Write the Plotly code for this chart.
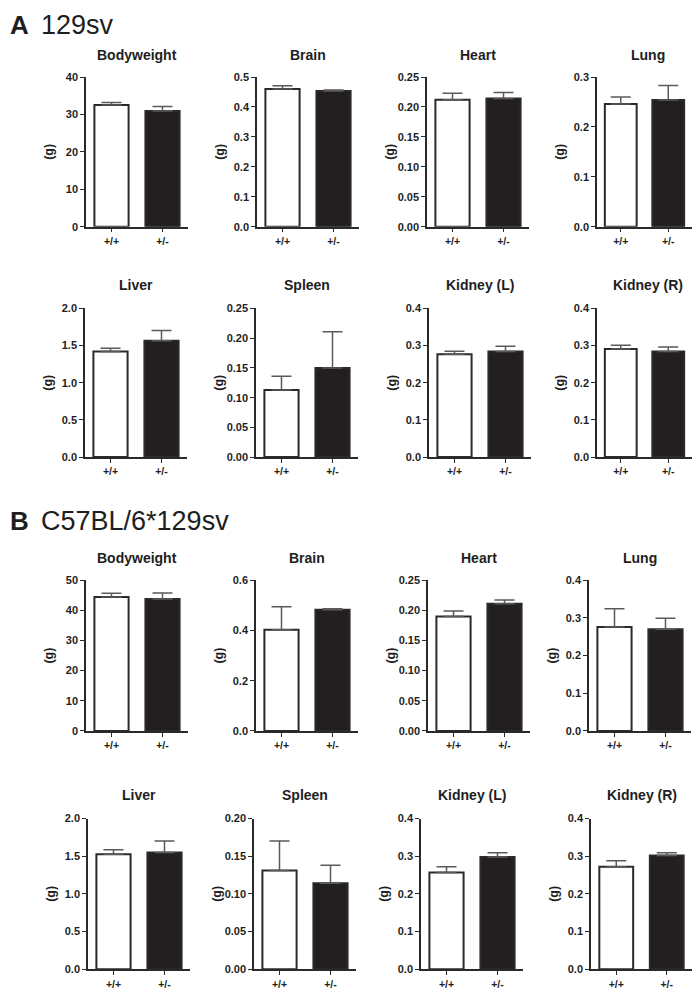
import plotly.graph_objects as go
from plotly.subplots import make_subplots

# ---------------- data ----------------
GROUPS = ["+/+", "+/-"]
ORGANS = ["Bodyweight", "Brain", "Heart", "Lung", "Liver", "Spleen", "Kidney (L)", "Kidney (R)"]
SECTIONS = [("A", "129sv"), ("B", "C57BL/6*129sv")]

# 129sv  (mean of +/+, +/-) and SEM
A_WT = [32.5, 0.460, 0.212, 0.246, 1.420, 0.113, 0.277, 0.291]
A_HET = [30.9, 0.453, 0.214, 0.254, 1.564, 0.150, 0.284, 0.284]
A_WT_ERR = [0.7, 0.011, 0.011, 0.014, 0.045, 0.023, 0.008, 0.010]
A_HET_ERR = [1.2, 0.004, 0.010, 0.029, 0.140, 0.061, 0.014, 0.012]

# C57BL/6*129sv
B_WT = [44.4, 0.403, 0.190, 0.276, 1.525, 0.131, 0.257, 0.272]
B_HET = [43.8, 0.482, 0.211, 0.270, 1.548, 0.114, 0.298, 0.302]
B_WT_ERR = [1.3, 0.091, 0.009, 0.048, 0.060, 0.039, 0.015, 0.016]
B_HET_ERR = [2.0, 0.004, 0.006, 0.029, 0.155, 0.024, 0.011, 0.007]

# y axis scales (max, step, label format) per panel
A_YMAX = [40, 0.5, 0.25, 0.3, 2.0, 0.25, 0.4, 0.4]
A_YSTEP = [10, 0.1, 0.05, 0.1, 0.5, 0.05, 0.1, 0.1]
A_YFMT = ["{:.0f}", "{:.1f}", "{:.2f}", "{:.1f}", "{:.1f}", "{:.2f}", "{:.1f}", "{:.1f}"]
B_YMAX = [50, 0.6, 0.25, 0.4, 2.0, 0.20, 0.4, 0.4]
B_YSTEP = [10, 0.2, 0.05, 0.1, 0.5, 0.05, 0.1, 0.1]
B_YFMT = ["{:.0f}", "{:.1f}", "{:.2f}", "{:.1f}", "{:.1f}", "{:.2f}", "{:.1f}", "{:.1f}"]
Y_LABEL = "(g)"

# ---------------- layout constants (page pixels) ----------------
PAGE_W, PAGE_H = 700, 998
OFF = 8  # default body margin of the html page
W, H = PAGE_W - 2 * OFF, PAGE_H - 2 * OFF
ROW_TOP = [72, 307, 583, 825]
ROW_BOT = [224, 458, 736, 978]
COL_X = [[86, 257, 427, 597], [85, 256, 429, 597], [86, 256, 428, 589], [88, 254, 421, 591]]
TITLE_Y = [50, 283, 560, 801]
PW = 102
SECTION_Y = [19, 523]


def px(x):
    return (x - OFF) / W


def py(y):
    return 1 - (y - OFF) / H


FONT = "Liberation Sans, Arial, sans-serif"
AX_COLOR = "#2a2a2a"
TXT = "#1e1e1e"
BLACK_BAR = "#231f20"
ERR_COLOR = "#5a5a5a"

fig = make_subplots(rows=4, cols=4)

sections = [
    (A_WT, A_HET, A_WT_ERR, A_HET_ERR, A_YMAX, A_YSTEP, A_YFMT),
    (B_WT, B_HET, B_WT_ERR, B_HET_ERR, B_YMAX, B_YSTEP, B_YFMT),
]

annotations = []
for s, (wt, het, we, he, ymax, ystep, yfmt) in enumerate(sections):
    for k in range(8):
        r = s * 2 + k // 4
        c = k % 4
        idx = r * 4 + c + 1
        fig.add_trace(
            go.Bar(
                x=[0, 1],
                y=[wt[k], het[k]],
                width=0.67,
                marker=dict(color=["white", BLACK_BAR], line=dict(color=AX_COLOR, width=2)),
                error_y=dict(
                    type="data",
                    symmetric=False,
                    array=[we[k], he[k]],
                    arrayminus=[0, 0],
                    color=ERR_COLOR,
                    thickness=1.5,
                    width=10,
                ),
                showlegend=False,
                hoverinfo="skip",
            ),
            row=r + 1,
            col=c + 1,
        )
        x0 = COL_X[r][c]
        xd = [max(0.0, px(x0)), min(1.0, px(x0 + PW))]
        yd = [max(0.0, py(ROW_BOT[r])), min(1.0, py(ROW_TOP[r]))]
        n = int(round(ymax[k] / ystep[k]))
        tv = [i * ystep[k] for i in range(n + 1)]
        tt = [yfmt[k].format(v) for v in tv]
        sfx = "" if idx == 1 else str(idx)
        fig.update_layout(
            **{
                f"xaxis{sfx}": dict(
                    domain=xd,
                    range=[-0.5, 1.5],
                    tickvals=[0, 1],
                    ticktext=GROUPS,
                    showline=True,
                    linecolor=AX_COLOR,
                    linewidth=1.5,
                    ticks="outside",
                    ticklen=4,
                    tickwidth=1.2,
                    tickcolor=AX_COLOR,
                    showgrid=False,
                    zeroline=False,
                    tickfont=dict(family=FONT, size=10.5, color=TXT, weight="bold"),
                    fixedrange=True,
                ),
                f"yaxis{sfx}": dict(
                    domain=yd,
                    range=[0, ymax[k]],
                    tickvals=tv,
                    ticktext=tt,
                    showline=True,
                    linecolor=AX_COLOR,
                    linewidth=1.5,
                    ticks="outside",
                    ticklen=4,
                    tickwidth=1.2,
                    tickcolor=AX_COLOR,
                    showgrid=False,
                    zeroline=False,
                    tickfont=dict(family=FONT, size=11, color=TXT, weight="bold"),
                    fixedrange=True,
                ),
            }
        )
        # panel title
        annotations.append(
            dict(
                text=ORGANS[k],
                x=px(x0 + PW / 2),
                y=py(TITLE_Y[r]),
                xref="paper",
                yref="paper",
                xanchor="center",
                yanchor="middle",
                showarrow=False,
                font=dict(family=FONT, size=14, color=TXT, weight="bold"),
            )
        )
        # y label
        annotations.append(
            dict(
                text=Y_LABEL,
                x=px(x0 - 37),
                y=py((ROW_TOP[r] + ROW_BOT[r]) / 2),
                xref="paper",
                yref="paper",
                xanchor="center",
                yanchor="middle",
                textangle=-90,
                showarrow=False,
                font=dict(family=FONT, size=12.5, color=TXT, weight="bold"),
            )
        )

for s, (letter, strain) in enumerate(SECTIONS):
    annotations.append(
        dict(
            text=letter,
            x=px(OFF),
            y=py(SECTION_Y[s]),
            xref="paper",
            yref="paper",
            xanchor="left",
            yanchor="middle",
            showarrow=False,
            font=dict(family=FONT, size=26, color=TXT, weight="bold"),
        )
    )
    annotations.append(
        dict(
            text=strain,
            x=px(39),
            y=py(SECTION_Y[s]),
            xref="paper",
            yref="paper",
            xanchor="left",
            yanchor="middle",
            showarrow=False,
            font=dict(family=FONT, size=27, color=TXT),
        )
    )

fig.update_layout(
    width=W,
    height=H,
    autosize=False,
    margin=dict(l=0, r=0, t=0, b=0),
    paper_bgcolor="white",
    plot_bgcolor="white",
    annotations=annotations,
)

fig.write_html("out.html", config={"displayModeBar": False})
